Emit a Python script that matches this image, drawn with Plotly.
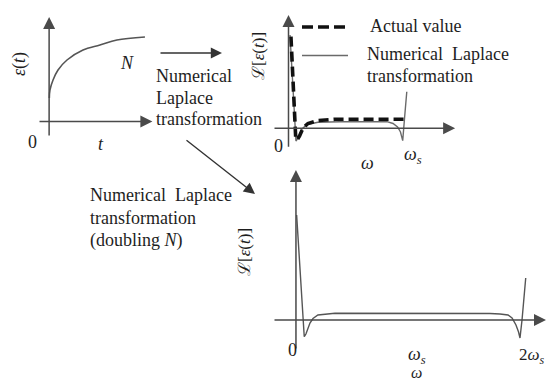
import plotly.graph_objects as go

W, H = 547, 380

# ---------------- data ----------------
# Panel 1: time-domain response eps(t)
t_vals = [0.002, 0.008, 0.037, 0.084, 0.169, 0.32, 0.48, 0.64, 0.905]
eps_vals = [0.235, 0.315, 0.415, 0.515, 0.615, 0.715, 0.765, 0.815, 0.845]

# Panel 2: frequency domain (omega in units of omega_s), N samples
w_actual = [0.021, 0.039, 0.052, 0.062, 0.073, 0.095, 0.125, 0.167, 0.253, 0.399, 1.0]
L_actual = [0.916, 0.433, 0.083, -0.097, -0.117, -0.077, 0.003, 0.048, 0.078, 0.09, 0.09]

w_num = [0.013, 0.052, 0.064, 0.082, 0.116, 0.159, 0.253, 0.442, 0.845, 0.897,
         0.936, 0.961, 0.98, 0.996, 1.015]
L_num = [0.933, 0.033, -0.127, -0.097, -0.007, 0.038, 0.06, 0.066, 0.066, 0.048,
         0.013, -0.037, -0.124, 0.103, 0.366]

# Panel 3: numerical transform with doubled N
w_num2 = [0.006, 0.0625, 0.074, 0.089, 0.125, 0.152, 0.196, 0.348, 1.107, 1.732,
          1.821, 1.893, 1.929, 1.964, 1.987, 2.0, 2.018, 2.051]
L_num2 = [1.05, 0.0, -0.167, -0.14, -0.03, 0.015, 0.05, 0.067, 0.07, 0.065,
          0.06, 0.05, 0.02, -0.05, -0.12, -0.18, 0.0, 0.42]

# ---------------- styling ----------------
SERIF = "Liberation Serif"
TXT = "#1e1e1e"
AX = "#4a4a4a"


def P(px, py):
    return px / W, 1 - py / H


def dom(p0, p1, q0, q1):
    return [p0 / W, p1 / W], [1 - q1 / H, 1 - q0 / H]


fig = go.Figure()

# panel 1 -> axes x/y ; panel 2 -> x2/y2 ; panel 3 -> x3/y3
fig.add_trace(go.Scatter(x=t_vals, y=eps_vals, mode="lines", xaxis="x", yaxis="y",
                         line=dict(color="#555555", width=1.6, shape="spline"),
                         showlegend=False, hoverinfo="skip"))
fig.add_trace(go.Scatter(x=w_num, y=L_num, mode="lines", xaxis="x2", yaxis="y2",
                         line=dict(color="#6a6a6a", width=1.4),
                         showlegend=False, hoverinfo="skip"))
fig.add_trace(go.Scatter(x=w_actual, y=L_actual, mode="lines", xaxis="x2", yaxis="y2",
                         line=dict(color="#111111", width=3.6, dash="10px,5px"),
                         showlegend=False, hoverinfo="skip"))
fig.add_trace(go.Scatter(x=w_num2, y=L_num2, mode="lines", xaxis="x3", yaxis="y3",
                         line=dict(color="#555555", width=1.4),
                         showlegend=False, hoverinfo="skip"))

ax_common = dict(visible=False, showgrid=False, zeroline=False, fixedrange=True)
d1x, d1y = dom(38, 155, 17, 140)
d2x, d2y = dom(273, 457, 10, 150)
d3x, d3y = dom(273, 547, 165, 355)

fig.update_layout(
    width=W, height=H,
    margin=dict(l=0, r=0, t=0, b=0),
    paper_bgcolor="white", plot_bgcolor="rgba(0,0,0,0)",
    showlegend=False,
    xaxis=dict(domain=d1x, range=[-0.105, 1.0], anchor="y", **ax_common),
    yaxis=dict(domain=d1y, range=[-0.185, 1.045], anchor="x", **ax_common),
    xaxis2=dict(domain=d2x, range=[-0.133, 1.446], anchor="y2", **ax_common),
    yaxis2=dict(domain=d2y, range=[-0.217, 1.183], anchor="x2", **ax_common),
    xaxis3=dict(domain=d3x, range=[-0.205, 2.241], anchor="y3", **ax_common),
    yaxis3=dict(domain=d3y, range=[-0.35, 1.55], anchor="x3", **ax_common),
)

annotations = []


def axis_arrow(xr, yr, x0, y0, x1, y1):
    annotations.append(dict(
        xref=xr, yref=yr, axref=xr, ayref=yr, x=x1, y=y1, ax=x0, ay=y0,
        text="", showarrow=True, arrowhead=2, arrowsize=1.6, arrowwidth=1.5,
        arrowcolor=AX, standoff=0, startstandoff=0))


# panel axes with arrow heads
axis_arrow("x", "y", 0, -0.155, 0, 1.045)
axis_arrow("x", "y", -0.105, 0, 0.975, 0)
axis_arrow("x2", "y2", 0, -0.2, 0, 1.133)
axis_arrow("x2", "y2", -0.133, 0, 1.43, 0)
axis_arrow("x3", "y3", 0, -0.3, 0, 1.5)
axis_arrow("x3", "y3", -0.205, 0, 2.232, 0)


def paper_arrow(px0, py0, px1, py1):
    x, y = P(px1, py1)
    annotations.append(dict(
        xref="paper", yref="paper", x=x, y=y, ax=px0 - px1, ay=py0 - py1,
        text="", showarrow=True, arrowhead=2, arrowsize=1.6, arrowwidth=1.4,
        arrowcolor="#333333", standoff=0))


paper_arrow(159, 53, 222, 53)
paper_arrow(185, 139, 255, 194)


def label(text, px, py, size=18, anchor="center", angle=0, color=TXT):
    x, y = P(px, py)
    annotations.append(dict(
        xref="paper", yref="paper", x=x, y=y, text=text, showarrow=False,
        xanchor=anchor, yanchor="middle", textangle=angle,
        font=dict(family=SERIF, size=size, color=color)))


# panel 1 labels
label("<i>ε</i>(<i>t</i>)", 20, 64, size=18, angle=-90)
label("<i>N</i>", 127, 63, size=18)
label("0", 32, 142, size=18)
label("<i>t</i>", 101, 144, size=18)

# transformation text (top)
label("Numerical", 154, 76, anchor="left")
label("Laplace", 154, 98, anchor="left")
label("transformation", 154, 119, anchor="left")

# panel 2 labels
label("ℒ[<i>ε</i>(<i>t</i>)]", 258, 56, size=17, angle=-90)
label("0", 278, 146)
label("<i>ω</i>", 367, 163)
label("<i>ω<sub>s</sub></i>", 413, 155)

# legend (drawn manually)
fig.add_shape(type="line", xref="paper", yref="paper",
              x0=302 / W, x1=345 / W, y0=1 - 27 / H, y1=1 - 27 / H,
              line=dict(color="#111111", width=3.6, dash="11px,5px"))
fig.add_shape(type="line", xref="paper", yref="paper",
              x0=302 / W, x1=348 / W, y0=1 - 55.5 / H, y1=1 - 55.5 / H,
              line=dict(color="#6a6a6a", width=1.4))
label("Actual value", 368, 26, anchor="left")
label("Numerical\u00a0 Laplace", 365, 54.5, anchor="left")
label("transformation", 365, 76, anchor="left")

# bottom-left text
label("Numerical\u00a0 Laplace", 88, 195, anchor="left")
label("transformation", 88, 218, anchor="left")
label("(doubling <i>N</i>)", 88, 240, anchor="left")

# panel 3 labels
label("ℒ[<i>ε</i>(<i>t</i>)]", 245, 252, size=17, angle=-90)
label("0", 292, 350)
label("<i>ω<sub>s</sub></i>", 417, 355)
label("2<i>ω<sub>s</sub></i>", 517, 356, size=17, anchor="left")
label("<i>ω</i>", 416, 372, size=16)

fig.update_layout(annotations=annotations)

fig.write_html(
    "out.html",
    config={"displayModeBar": False},
    post_script="document.body.style.margin='0';document.body.style.overflow='hidden';",
)
